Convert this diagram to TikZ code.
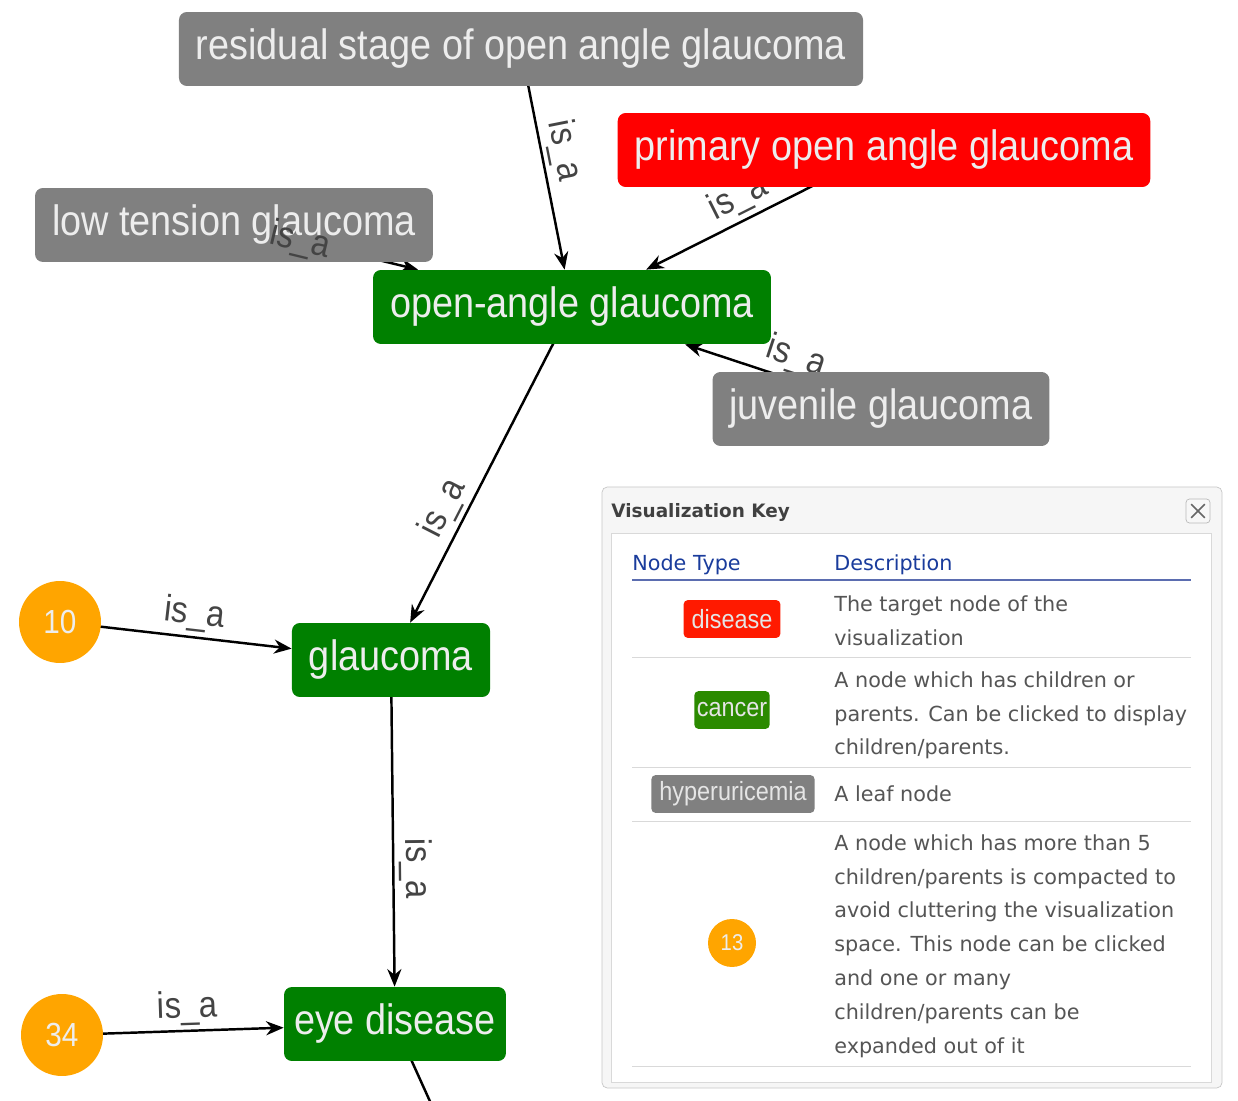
\documentclass[tikz,border=0pt]{standalone}
\usepackage{fontspec}
\setmainfont{Liberation Sans}
\newfontfamily\graphfont[FakeStretch=0.89]{Liberation Sans}
\newfontfamily\keyfont{DejaVu Sans}
\usetikzlibrary{arrows.meta,backgrounds}
\definecolor{targetred}{HTML}{FF0000}
\definecolor{branchgreen}{HTML}{008000}
\definecolor{leafgray}{HTML}{808080}
\definecolor{bundleorange}{HTML}{FFA500}
\definecolor{relgray}{HTML}{444444}
\definecolor{keyblue}{HTML}{1A3C9C}
\definecolor{keyline}{HTML}{5B6DB0}
\definecolor{keytext}{HTML}{555555}
\definecolor{keyred}{HTML}{FF1A00}
\definecolor{keygreen}{HTML}{2B8A00}

\begin{document}
\begin{tikzpicture}[
  x=0.02cm, y=-0.02cm,
  concept/.style={rectangle, rounded corners=4.5pt, minimum height=1.48cm, inner xsep=0.34cm,
    text=white!93!black, font=\graphfont\fontsize{24.2}{28}\selectfont},
  target/.style={concept, fill=targetred},
  branch/.style={concept, fill=branchgreen},
  leaf/.style={concept, fill=leafgray},
  bundle/.style={circle, fill=bundleorange, minimum size=1.64cm, inner sep=0pt,
    text=white!93!black, font=\graphfont\fontsize{19}{22}\selectfont},
  rel/.style={font=\graphfont\fontsize{21}{24}\selectfont, text=relgray, sloped, inner sep=2.5pt},
  link/.style={->, line width=1.4pt},
  >={Stealth[length=10pt,width=8pt]},
  badge/.style={rectangle, rounded corners=2.5pt, minimum height=0.76cm, inner xsep=0.16cm,
    text=white!90!black, font=\graphfont\fontsize{15}{18}\selectfont},
  colhead/.style={anchor=base west, inner sep=0pt, text=keyblue, font=\keyfont\fontsize{11.8}{14}\selectfont},
  desc/.style={anchor=north west, align=left, inner sep=0pt, text=keytext,
    font=\keyfont\fontsize{11.8}{19.3}\selectfont}
]
  \useasboundingbox (0,0) rectangle (1238,1101);
  \clip (0,0) rectangle (1238,1101);

  % concept graph
  \node[leaf]   (residual)   at (521,49)   {residual stage of open angle glaucoma};
  \node[target] (primary)    at (884,150)  {primary open angle glaucoma};
  \node[leaf]   (lowtension) at (234,225)  {low tension glaucoma};
  \node[branch] (openangle)  at (572,307)  {open-angle glaucoma};
  \node[leaf]   (juvenile)   at (881,409)  {juvenile glaucoma};
  \node[branch] (glaucoma)   at (391,660)  {glaucoma};
  \node[branch, inner xsep=0.2cm] (eyedisease) at (395,1024) {eye disease};
  \node[bundle] (more10)     at (60,622)   {10};
  \node[bundle] (more34)     at (62,1035)  {34};
  \coordinate (offpage) at (452,1150);

  % edges start at the node centres and run under the nodes
  \begin{scope}[on background layer]
    \draw[link] (residual.center) -- node[rel, pos=.48, above] {is\_a} (openangle);
    \draw[link] (primary.center) -- node[rel, pos=.57, above] {is\_a} (openangle);
    \draw[link] (lowtension.center) -- (openangle);
    \draw[link] (juvenile.center) -- node[rel, pos=.47, above] {is\_a} (openangle);
    \draw[link] (openangle.center) -- node[rel, pos=.67, above] {is\_a} (glaucoma);
    \draw[link] (more10.center) -- node[rel, pos=.57, above] {is\_a} (glaucoma);
    \draw[link] (glaucoma.center) -- node[rel, pos=.64, above] {is\_a} (eyedisease);
    \draw[link] (more34.center) -- node[rel, pos=.57, above] {is\_a} (eyedisease);
    \draw[link] (eyedisease.center) -- (offpage);
  \end{scope}
  \path (lowtension.center) -- node[rel, pos=.36] {is\_a} (openangle);

  % visualization key
  \draw[gray!45, fill=gray!7, rounded corners=3pt] (602,487) rectangle (1222,1088);
  \draw[gray!30, fill=white] (611,533) rectangle (1211,1082);
  \node[anchor=base west, inner sep=0pt, text=black!75,
    font=\keyfont\bfseries\fontsize{10.5}{13}\selectfont] (keytitle) at (611,518) {Visualization Key};
  \node[draw=gray!55, fill=gray!6, rounded corners=2pt, minimum size=0.48cm] (closebtn) at (1198,511) {};
  \draw[black!60, line width=0.9pt, shorten <=4.5pt, shorten >=4.5pt] (closebtn.north west) -- (closebtn.south east);
  \draw[black!60, line width=0.9pt, shorten <=4.5pt, shorten >=4.5pt] (closebtn.north east) -- (closebtn.south west);

  \node[colhead] (typehead) at (632,570) {Node Type};
  \node[colhead] (deschead) at (834,570) {Description};
  \draw[keyline, line width=1.5pt] (632,580) -- (1191,580);
  \foreach \y in {657,767,821,1066}
    \draw[gray!30] (632,\y) -- (1191,\y);

  \node[badge, fill=keyred]   (kdisease) at (732,619) {disease};
  \node[badge, fill=keygreen, inner xsep=0.05cm] (kcancer) at (732,710) {cancer};
  \node[badge, fill=leafgray] (kleaf)    at (733,794) {hyperuricemia};
  \node[bundle, minimum size=0.96cm, font=\graphfont\fontsize{13}{15}\selectfont] (kbundle) at (732,943) {13};

  \node[desc] (dtarget) at (834,595) {The target node of the\\visualization};
  \node[desc] (dbranch) at (834,671) {A node which has children or\\parents. Can be clicked to display\\children/parents.};
  \node[desc] (dleaf)   at (834,785) {A leaf node};
  \node[desc] (dbundle) at (834,834) {A node which has more than 5\\children/parents is compacted to\\avoid cluttering the visualization\\space. This node can be clicked\\and one or many\\children/parents can be\\expanded out of it};
\end{tikzpicture}
\end{document}
